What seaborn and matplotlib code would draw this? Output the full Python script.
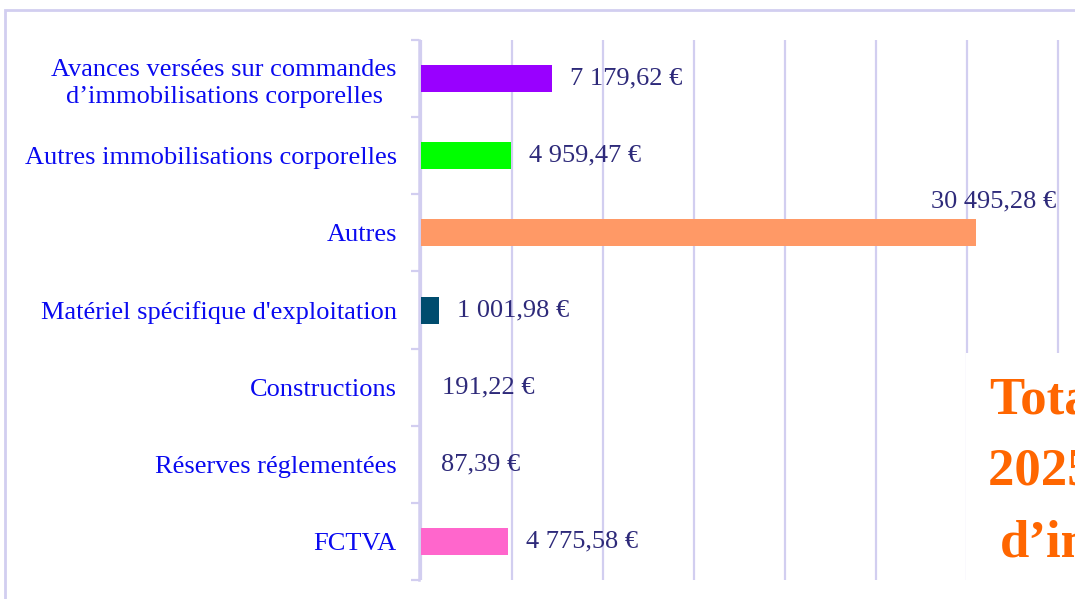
import matplotlib
matplotlib.use("Agg")
import matplotlib.pyplot as plt
import seaborn as sns
import pandas as pd
from matplotlib.patches import Rectangle
from matplotlib.ticker import MultipleLocator, FixedLocator

categories = [
    "Avances versées sur commandes\nd’immobilisations corporelles",
    "Autres immobilisations corporelles",
    "Autres",
    "Matériel spécifique d'exploitation",
    "Constructions",
    "Réserves réglementées",
    "FCTVA",
]
values = [7179.62, 4959.47, 30495.28, 1001.98, 191.22, 87.39, 4775.58]
labels = ["7 179,62 €", "4 959,47 €", "30 495,28 €", "1 001,98 €", "191,22 €", "87,39 €", "4 775,58 €"]
colors = ["#9900FF", "#00FF00", "#FF9966", "#004C6E", "#FFFFFF00", "#FFFFFF00", "#FF66CC"]
total_lines = ["Total des recettes", "2025 : 48 690,54 €", "d’investissement"]

W, H = 1075, 599
GRID = "#D2CEF0"

sns.set_theme(style="white")
plt.rcParams["font.family"] = ["Liberation Serif", "DejaVu Serif"]

fig = plt.figure(figsize=(W / 100, H / 100), dpi=100)
left, right, top, bottom = 419, 1149, 40, 580
ax = fig.add_axes([left / W, 1 - bottom / H, (right - left) / W, (bottom - top) / H])

df = pd.DataFrame({"cat": categories, "val": values})
sns.barplot(data=df, y="cat", x="val", hue="cat", palette=colors, legend=False,
            orient="h", width=0.35, ax=ax, edgecolor="none", saturation=1, zorder=3)

ax.set_xlim(-110, 40000)
ax.set_ylim(len(categories) - 0.5, -0.5)
ax.xaxis.set_major_locator(MultipleLocator(5000))
ax.grid(axis="x", color=GRID, linewidth=1.6, zorder=0)
ax.grid(axis="y", visible=False)
ax.set_axisbelow(True)
ax.set_xlabel("")
ax.set_ylabel("")
ax.tick_params(axis="x", bottom=False, labelbottom=False)
for s in ["top", "right", "bottom"]:
    ax.spines[s].set_visible(False)
ax.spines["left"].set_color(GRID)
ax.spines["left"].set_linewidth(1.8)

ax.yaxis.set_minor_locator(FixedLocator([i - 0.5 for i in range(len(categories) + 1)]))
ax.tick_params(axis="y", which="minor", length=6, color=GRID, width=1.6, left=True)
ax.tick_params(axis="y", which="major", length=0, pad=16, labelsize=19, labelcolor="#0A0AF0")
for t in ax.get_yticklabels():
    t.set_multialignment("center")
    t.set_linespacing(1.3)

label_color = "#2E2A7A"
maxi = values.index(max(values))
for i, (v, lab) in enumerate(zip(values, labels)):
    if i == maxi:
        ax.annotate(lab, xy=(v, i), xytext=(80, 31), textcoords="offset pixels",
                    ha="right", va="center", fontsize=19, color=label_color, zorder=5)
    else:
        ax.annotate(lab, xy=(v, i), xytext=(18, 0), textcoords="offset pixels",
                    ha="left", va="center", fontsize=19, color=label_color, zorder=5)

# white box with total text (clipped at figure edge, as in the reference)
fig.patches.append(Rectangle((966 / W, 1 - 590 / H), 200 / W, (590 - 353) / H,
                             transform=fig.transFigure, facecolor="white",
                             edgecolor="none", zorder=2))
for txt, x, yb in zip(total_lines, [990, 988, 1000], [413, 485, 557]):
    fig.text(x / W, 1 - yb / H, txt, ha="left", va="baseline", fontsize=38,
             fontweight="bold", color="#FF6600", zorder=3)

# figure frame
fig.patches.append(Rectangle((5 / W, -0.05), 1.2, 1 - 10 / H + 0.05,
                             transform=fig.transFigure, facecolor="none",
                             edgecolor=GRID, linewidth=2, zorder=4))

fig.savefig("out.png", dpi=100)
